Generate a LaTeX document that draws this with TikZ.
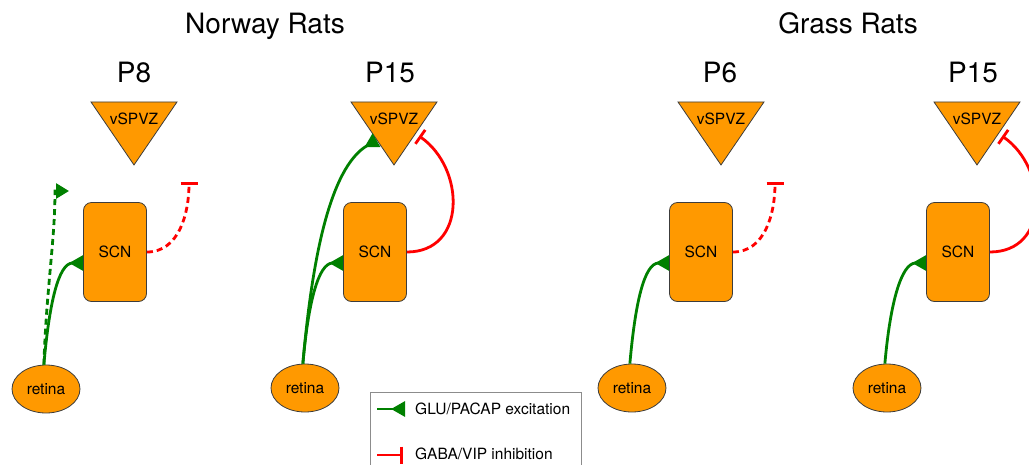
\documentclass[tikz,border=0pt]{standalone}
\usepackage{fontspec}
\setmainfont{TeX Gyre Heros}
\usetikzlibrary{arrows.meta,shapes.geometric,calc}

\definecolor{nucleus}{RGB}{255,153,0}
\definecolor{rim}{RGB}{60,60,60}
\definecolor{glu}{RGB}{0,128,0}
\definecolor{gaba}{RGB}{255,0,0}

\tikzset{
  blob/.style={draw=rim, fill=nucleus, line width=0.8pt},
  scn/.style={blob, rounded corners=8pt, minimum width=63pt, minimum height=99pt, inner sep=0pt},
  eye/.style={blob, ellipse, minimum width=68pt, minimum height=48pt, inner sep=0pt},
  spvz/.style={blob, isosceles triangle, isosceles triangle stretches, shape border rotate=270,
    minimum width=86pt, minimum height=63pt, inner sep=0pt, anchor=apex},
  lbl/.style={font=\fontsize{15.5}{18}\selectfont},
  heading/.style={font=\fontsize{28}{32}\selectfont, anchor=base},
  exc/.style={draw=glu, line width=2.8pt, -{Triangle[reversed,length=14pt,width=15pt]}},
  stub/.style={draw=glu, line width=2.8pt, -{Triangle[length=13pt,width=15pt]}},
  inh/.style={draw=gaba, line width=2.8pt, -{Bar[width=17pt]}},
  absent/.style={dash pattern=on 6pt off 4pt},
  keybox/.style={draw=black!45, line width=0.8pt}
}

\begin{document}
\begin{tikzpicture}[x=1pt, y=1pt]
  \useasboundingbox (0,0) rectangle (1029,-464);

  \node (norway) at (265,-33) [heading] {Norway Rats};
  \node (grass)  at (848,-33) [heading] {Grass Rats};
  \node (p8)     at (134,-82) [heading] {P8};
  \node (p15n)   at (390,-82) [heading] {P15};
  \node (p6)     at (720,-82) [heading] {P6};
  \node (p15g)   at (973,-82) [heading] {P15};

  \node (t1) at (134,-166) [spvz] {};
  \node (t2) at (394,-166) [spvz] {};
  \node (t3) at (721,-166) [spvz] {};
  \node (t4) at (977,-166) [spvz] {};
  \node (t1l) at (134,-119) [lbl] {vSPVZ};
  \node (t2l) at (394,-119) [lbl] {vSPVZ};
  \node (t3l) at (721,-119) [lbl] {vSPVZ};
  \node (t4l) at (977,-119) [lbl] {vSPVZ};

  \node (s1) at (115,-252) [scn, lbl] {SCN};
  \node (s2) at (375,-252) [scn, lbl] {SCN};
  \node (s3) at (701,-252) [scn, lbl] {SCN};
  \node (s4) at (958,-252) [scn, lbl] {SCN};

  \node (r1) at (46,-389)  [eye, lbl] {retina};
  \node (r2) at (305,-388) [eye, lbl] {retina};
  \node (r3) at (632,-388) [eye, lbl] {retina};
  \node (r4) at (887,-388) [eye, lbl] {retina};

  \coordinate (g1) at (69,-191);
  \coordinate (i1) at (189,-182);
  \coordinate (i3) at (775,-182);

  % P8
  \draw[exc] (r1.95) .. controls +(85:60) and +(180:25) .. ([yshift=-11pt]s1.west);
  \draw[stub, absent] (r1.95) .. controls +(88:80) and +(-90:50) .. ([xshift=-14pt]g1) -- (g1);
  \draw[inh, absent] (s1.east) to[out=0,in=-90] (i1);

  % P15
  \draw[exc] (r2.95) .. controls +(85:60) and +(180:25) .. ([yshift=-11pt]s2.west);
  \draw[exc] (r2.95) .. controls +(85:100) and +(210:55) .. ($(t2.right corner)!0.6!(t2.apex)$);
  \draw[inh, shorten >=4pt] (s2.east) to[out=0,in=-35,looseness=1.3] (t2.left side);

  % P6
  \draw[exc] (r3.95) .. controls +(85:60) and +(180:25) .. ([yshift=-11pt]s3.west);
  \draw[inh, absent] (s3.east) to[out=0,in=-90] (i3);

  % P15
  \draw[exc] (r4.95) .. controls +(85:60) and +(180:25) .. ([yshift=-11pt]s4.west);
  \draw[inh, shorten >=4pt] (s4.east) to[out=0,in=-35,looseness=1.3] (t4.left side);

  % key
  \draw[keybox] (370,-392) rectangle (581,-480);
  \coordinate (k1) at (377,-409);
  \coordinate (k2) at (377,-455);
  \node (k1t) at (415,-409) [lbl, anchor=west, inner sep=0pt] {GLU/PACAP excitation};
  \node (k2t) at (415,-454) [lbl, anchor=west, inner sep=0pt] {GABA/VIP inhibition};
  \draw[exc] (k1) -- ([xshift=-10pt]k1t.west);
  \draw[inh] (k2) -- ([xshift=-12pt]k2t.west |- k2);
\end{tikzpicture}
\end{document}
